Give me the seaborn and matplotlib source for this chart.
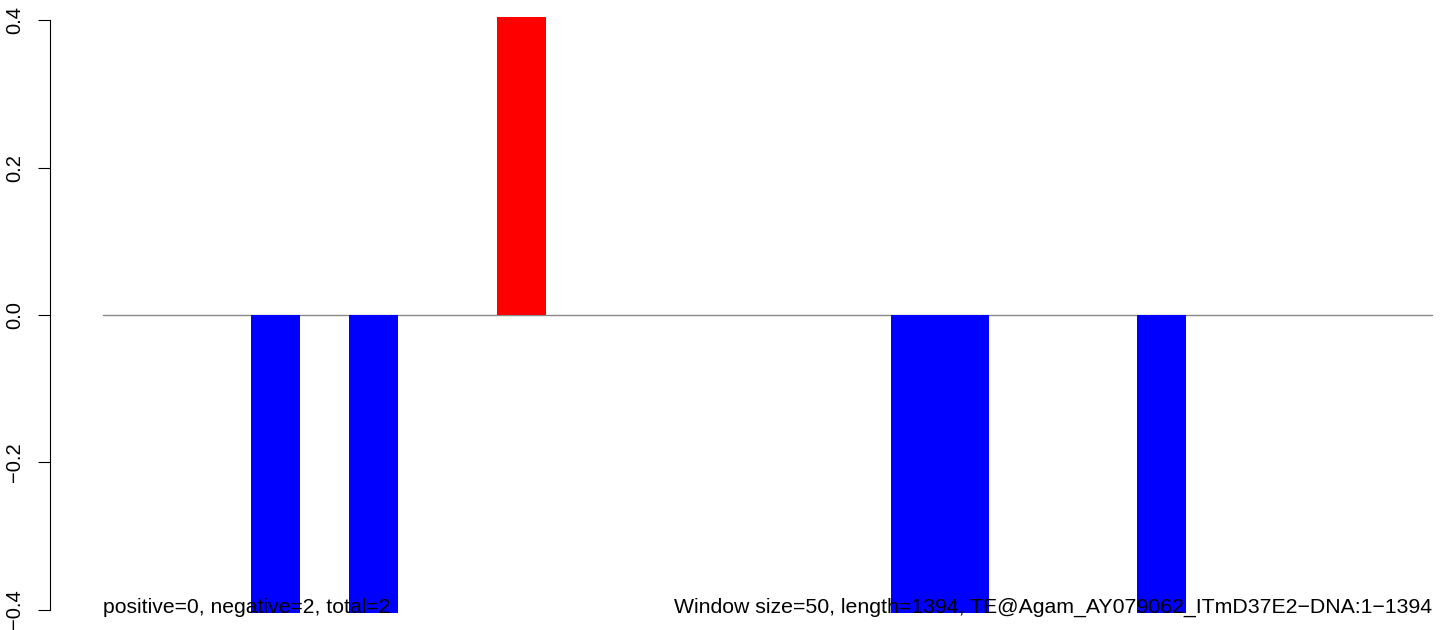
import numpy as np
import pandas as pd
import matplotlib
matplotlib.use("Agg")
import matplotlib.pyplot as plt
import seaborn as sns

# windows of 50 bp along a 1394 bp element
window_size = 50
seq_length = 1394
n_windows = 27
neg_windows = [3, 5, 16, 17, 21]
pos_windows = [8]
bar_value = 0.405

summary_left = "positive=0, negative=2, total=2"
summary_right = "Window size=50, length=1394, TE@Agam_AY079062_ITmD37E2\u2212DNA:1\u22121394"
y_ticks = [-0.4, -0.2, 0.0, 0.2, 0.4]
y_tick_labels = ["\u22120.4", "\u22120.2", "0.0", "0.2", "0.4"]

values = np.zeros(n_windows)
values[neg_windows] = -bar_value
values[pos_windows] = bar_value
sign = np.where(values > 0, "pos", np.where(values < 0, "neg", "zero"))
df = pd.DataFrame({"window": np.arange(n_windows), "value": values, "sign": sign})

sns.set_style("white")
plt.rcParams["font.family"] = ["Liberation Sans", "DejaVu Sans"]
plt.rcParams["text.color"] = "black"

fig = plt.figure(figsize=(14.44, 6.3), dpi=100)
ax = fig.add_axes([50 / 1444, 0, 1394 / 1444, 1])

sns.barplot(data=df, x="window", y="value", hue="sign",
            palette={"pos": "red", "neg": "blue", "zero": "white"},
            width=1, dodge=False, legend=False, linewidth=0,
            saturation=1, ax=ax, zorder=2)

ax.plot([-0.5, n_windows - 0.5], [0, 0], color="#888888", lw=1, zorder=1)

ax.set_xlim(-0.5 - 53 / 49.22, -0.5 + 1341 / 49.22)
ax.set_ylim(-(630 - 315) / 736.5, 315 / 736.5)

for s in ["top", "right", "bottom"]:
    ax.spines[s].set_visible(False)
ax.spines["left"].set_bounds(-0.4, 0.4)
ax.spines["left"].set_linewidth(0.8)
ax.spines["left"].set_color("black")
ax.set_xticks([])
ax.set_yticks(y_ticks)
ax.set_yticklabels(y_tick_labels)
ax.tick_params(axis="y", left=True, length=8.6, width=0.8, pad=10,
               labelsize=14.5, labelrotation=90, colors="black")
for lab in ax.get_yticklabels():
    lab.set_va("center")
ax.set_xlabel("")
ax.set_ylabel("")

ax.text(-0.5, -0.404, summary_left, ha="left", va="baseline",
        fontsize=15.2, color="black", zorder=5)
ax.text(n_windows - 0.5, -0.404, summary_right, ha="right", va="baseline",
        fontsize=15.3, color="black", zorder=5)

fig.savefig("out.png", dpi=100)
